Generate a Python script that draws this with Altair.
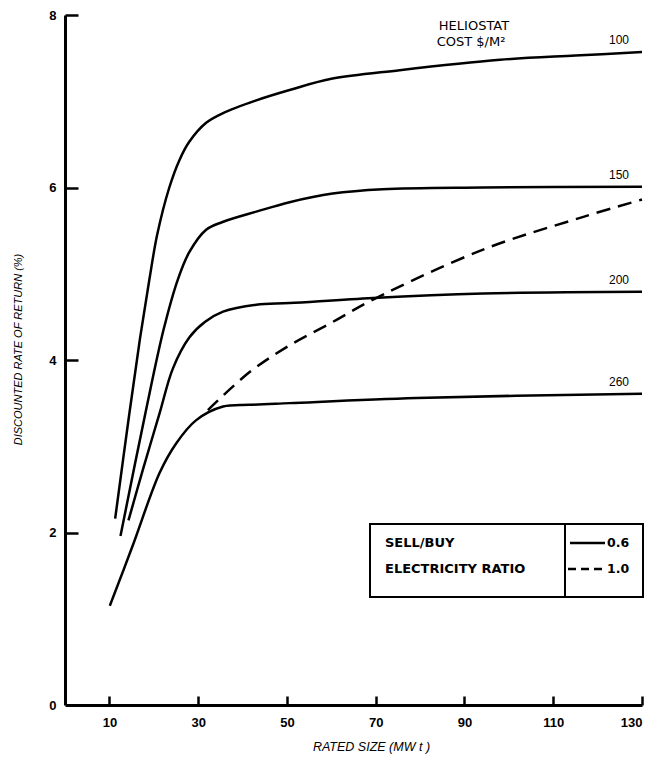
import altair as alt
import pandas as pd

FONT = "Liberation Sans"
FONT2 = "DejaVu Sans"

# Heliostat cost $/m^2 curves (sell/buy electricity ratio 0.6)
x100 = [11.3, 14.5, 16.9, 19.0, 20.8, 23.5, 25.8, 28.0, 31.8, 35.5, 43.1, 50.6, 60.0, 75.4, 98.0, 115.0, 130.0]
y100 = [2.16, 3.38, 4.25, 4.93, 5.46, 6.00, 6.32, 6.53, 6.75, 6.86, 7.01, 7.13, 7.26, 7.36, 7.48, 7.53, 7.57]

x150 = [12.5, 18.1, 22.2, 25.4, 28.0, 31.8, 35.5, 43.1, 50.6, 60.3, 71.6, 94.2, 130.0]
y150 = [1.96, 3.38, 4.35, 4.93, 5.25, 5.51, 5.60, 5.72, 5.83, 5.93, 5.98, 6.00, 6.01]

x200 = [14.3, 17.5, 21.3, 24.3, 28.0, 31.5, 35.6, 43.1, 50.6, 69.4, 94.2, 130.0]
y200 = [2.14, 2.72, 3.38, 3.90, 4.26, 4.44, 4.56, 4.64, 4.66, 4.72, 4.77, 4.79]

x260 = [10.1, 15.2, 21.3, 25.0, 29.5, 35.6, 41.6, 50.6, 79.2, 130.0]
y260 = [1.15, 1.84, 2.69, 3.03, 3.30, 3.46, 3.48, 3.50, 3.56, 3.61]

# sell/buy electricity ratio 1.0
x_r10 = [32.2, 41.6, 50.6, 60.3, 69.4, 94.2, 116.8, 130.0]
y_r10 = [3.42, 3.86, 4.17, 4.44, 4.70, 5.28, 5.66, 5.86]

costs = ["100", "150", "200", "260"]
x_ticks = [10, 30, 50, 70, 90, 110, 130]
y_ticks = [0, 2, 4, 6, 8]
legend_names = ["SELL/BUY", "ELECTRICITY RATIO"]
legend_ratios = ["0.6", "1.0"]

W, H = 577, 690

solid_rows = []
for c, xs, ys in zip(costs, [x100, x150, x200, x260], [y100, y150, y200, y260]):
    for i, (xv, yv) in enumerate(zip(xs, ys)):
        solid_rows.append({"cost": c, "x": xv, "y": yv, "order": i})
solid_df = pd.DataFrame(solid_rows)
dash_df = pd.DataFrame({"x": x_r10, "y": y_r10, "order": list(range(len(x_r10)))})
end_df = pd.DataFrame({
    "cost": costs,
    "x": [x100[-1], x150[-1], x200[-1], x260[-1]],
    "y": [y100[-1], y150[-1], y200[-1], y260[-1]],
})

xscale = alt.Scale(domain=[0, 130], nice=False, zero=False)
yscale = alt.Scale(domain=[0, 8], nice=False)

xaxis = alt.Axis(values=x_ticks, ticks=False, grid=False, domainWidth=3, domainColor="black",
                 labelFont=FONT, labelFontSize=13, labelFontWeight="bold", labelColor="black",
                 labelPadding=11, format="d", title="RATED SIZE (MW t )", titleFont=FONT,
                 titleFontSize=12.5, titleFontStyle="italic", titleFontWeight="normal",
                 titleColor="black", titleX=306, titleY=45, titleBaseline="alphabetic")
yaxis = alt.Axis(values=y_ticks, ticks=False, grid=False, domainWidth=3, domainColor="black",
                 labelFont=FONT, labelFontSize=13, labelFontWeight="bold", labelColor="black",
                 labelPadding=9, format="d", title="DISCOUNTED RATE OF RETURN (%)", titleFont=FONT,
                 titleFontSize=11, titleFontStyle="italic", titleFontWeight="normal",
                 titleColor="black", titleX=-47, titleY=334, titleAngle=270,
                 titleBaseline="middle", titleAlign="center")

# inward-pointing ticks: a top axis moved down onto the bottom edge, a right axis moved onto the left edge
xaxis_in = alt.Axis(orient="top", offset=-H, values=x_ticks, tickSize=9, tickWidth=2.5,
                    tickColor="black", labels=False, domain=False, grid=False, title=None)
yaxis_in = alt.Axis(orient="right", offset=-W, values=y_ticks[1:], tickSize=13, tickWidth=2.5,
                    tickColor="black", labels=False, domain=False, grid=False, title=None)

solid = alt.Chart(solid_df).mark_line(color="black", strokeWidth=2.5, interpolate="catmull-rom").encode(
    x=alt.X("x:Q", scale=xscale, axis=xaxis),
    y=alt.Y("y:Q", scale=yscale, axis=yaxis),
    detail="cost:N",
    order="order:Q",
)
dashed = alt.Chart(dash_df).mark_line(color="black", strokeWidth=2.5, strokeDash=[14, 8],
                                      interpolate="catmull-rom").encode(
    x=alt.X("x:Q", scale=xscale, axis=xaxis_in),
    y=alt.Y("y:Q", scale=yscale, axis=yaxis_in),
    order="order:Q")

labels = alt.Chart(end_df).mark_text(font=FONT, fontSize=12, color="black", dx=-23, dy=-12,
                                     align="center", baseline="middle").encode(
    x=alt.X("x:Q", scale=xscale, axis=None), y=alt.Y("y:Q", scale=yscale, axis=None), text="cost:N")


def txt(s, px, py, size=11, weight="normal", align="center", font=FONT):
    return alt.Chart(pd.DataFrame({"t": [s]})).mark_text(
        font=font, fontSize=size, fontWeight=weight, color="black", align=align,
        baseline="middle").encode(x=alt.value(px), y=alt.value(py), text="t:N")


one = pd.DataFrame({"a": [0]})
box = alt.Chart(one).mark_rect(fill="white", stroke="black", strokeWidth=2).encode(
    x=alt.value(305), x2=alt.value(578), y=alt.value(509), y2=alt.value(582))
divider = alt.Chart(one).mark_rule(color="black", strokeWidth=2).encode(
    x=alt.value(500), y=alt.value(509), y2=alt.value(582))
sample_solid = alt.Chart(one).mark_rule(color="black", strokeWidth=2.5).encode(
    x=alt.value(505), x2=alt.value(540), y=alt.value(528))
sample_dash = alt.Chart(one).mark_rule(color="black", strokeWidth=2.5, strokeDash=[8, 5]).encode(
    x=alt.value(503), x2=alt.value(540), y=alt.value(554))

layers = [solid, dashed, labels, box, divider, sample_solid, sample_dash,
          txt(legend_names[0], 320, 528, 13, "bold", "left", FONT2),
          txt(legend_names[1], 320, 554, 13, "bold", "left", FONT2),
          txt(legend_ratios[0], 542, 528, 12.5, "bold", "left", FONT2),
          txt(legend_ratios[1], 542, 554, 12.5, "bold", "left", FONT2),
          txt("HELIOSTAT", 409, 11, 13, font=FONT2),
          txt("COST  $/M²", 406, 27, 13, font=FONT2)]

chart = alt.layer(*layers).resolve_axis(x="independent", y="independent").properties(
    width=W, height=H,
    autosize=alt.AutoSizeParams(type="none"),
    padding={"left": 65, "top": 15, "right": 8, "bottom": 53},
    background="white",
).configure_view(stroke=None)

chart.save("out.html", embed_options={"renderer": "svg", "actions": False})
